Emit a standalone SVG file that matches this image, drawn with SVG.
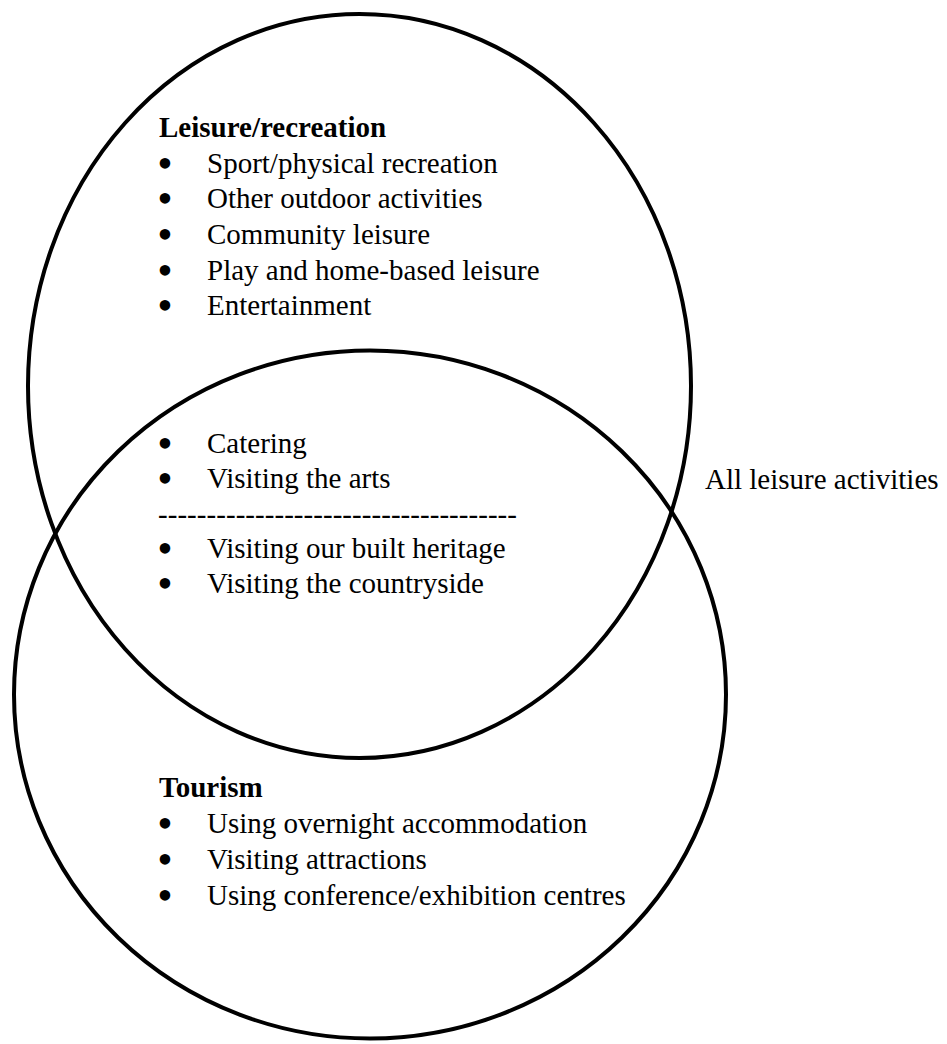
<svg xmlns="http://www.w3.org/2000/svg" width="947" height="1044" viewBox="0 0 947 1044">
<style>
.c{fill:none;stroke:#000;stroke-width:4}
text{font-family:"Liberation Serif","Times New Roman",serif;font-size:29px;fill:#000}
.h{font-weight:bold}
.b{text-anchor:middle;font-size:44px}
</style>
<rect width="947" height="1044" fill="#fff"/>
<g id="leisure">
<ellipse class="c" cx="359.5" cy="386" rx="331.5" ry="372"/>
<text class="h" x="159" y="137">Leisure/recreation</text>
<text class="b" x="165" y="178">•</text><text x="207" y="173">Sport/physical recreation</text>
<text class="b" x="165" y="213">•</text><text x="207" y="208">Other outdoor activities</text>
<text class="b" x="165" y="249">•</text><text x="207" y="244">Community leisure</text>
<text class="b" x="165" y="285">•</text><text x="207" y="280">Play and home-based leisure</text>
<text class="b" x="165" y="320">•</text><text x="207" y="315">Entertainment</text>
</g>
<g id="tourism">
<ellipse class="c" cx="370" cy="694.5" rx="356" ry="344"/>
<text class="h" x="159" y="797">Tourism</text>
<text class="b" x="165" y="838">•</text><text x="207" y="833">Using overnight accommodation</text>
<text class="b" x="165" y="874">•</text><text x="207" y="869">Visiting attractions</text>
<text class="b" x="165" y="910">•</text><text x="207" y="905">Using conference/exhibition centres</text>
</g>
<g id="overlap">
<text class="b" x="165" y="458">•</text><text x="207" y="453">Catering</text>
<text class="b" x="165" y="493">•</text><text x="207" y="488">Visiting the arts</text>
<text x="158" y="524" textLength="359" lengthAdjust="spacing">-------------------------------------</text>
<text class="b" x="165" y="563">•</text><text x="207" y="558">Visiting our built heritage</text>
<text class="b" x="165" y="598">•</text><text x="207" y="593">Visiting the countryside</text>
</g>
<g id="all">
<text x="705" y="489">All leisure activities</text>
</g>
<g id="connectors"></g>
</svg>
